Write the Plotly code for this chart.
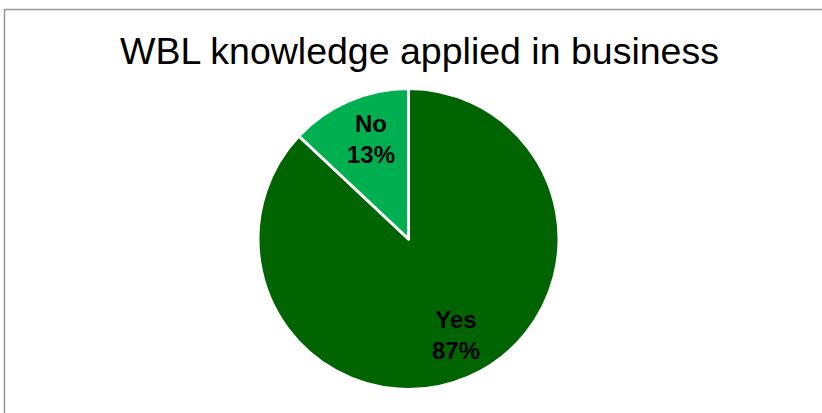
import math
import plotly.graph_objects as go

labels = ["Yes", "No"]
values = [87, 13]
colors = ["#006400", "#00B050"]
title_text = "WBL knowledge applied in business"

W, H = 822, 413

# pie geometry in pixels
CX, CY, R = 408.5, 239.0, 150.5
LABEL_R = 0.71 * R

fig = go.Figure(go.Pie(
    labels=labels,
    values=values,
    sort=False,
    direction="clockwise",
    rotation=0,
    marker=dict(colors=colors, line=dict(color="white", width=3)),
    textinfo="none",
    showlegend=False,
    hoverinfo="label+percent",
    domain=dict(x=[(CX - R) / W, (CX + R) / W], y=[(H - CY - R) / H, (H - CY + R) / H]),
))

# slice labels placed along each slice's mid angle (clockwise from 12 o'clock)
total = sum(values)
annotations = []
cum = 0.0
for lab, val in zip(labels, values):
    mid = (cum + val / 2) / total
    cum += val
    theta = 2 * math.pi * mid
    px = CX + LABEL_R * math.sin(theta)
    py = CY - LABEL_R * math.cos(theta)
    annotations.append(dict(
        x=px / W, y=1 - py / H, xref="paper", yref="paper",
        xshift=5, yshift=2,
        text=f"{lab}<br>{round(100 * val / total)}%",
        showarrow=False, xanchor="center", yanchor="middle",
        font=dict(family="Liberation Sans, Arial, sans-serif", size=24, color="black", weight="bold"),
    ))

fig.update_layout(
    width=W, height=H,
    margin=dict(l=0, r=0, t=0, b=0),
    paper_bgcolor="white",
    plot_bgcolor="white",
    annotations=annotations,
    title=dict(
        text=title_text,
        x=419.5 / W, xanchor="center",
        y=1 - 51 / H, yanchor="middle",
        font=dict(family="Liberation Sans, Arial, sans-serif", size=37.5, color="black"),
    ),
    shapes=[dict(
        type="rect", xref="paper", yref="paper",
        x0=4.5 / W, x1=1.02, y0=-0.02, y1=1 - 9.5 / H,
        line=dict(color="#969696", width=1.5),
        fillcolor="rgba(0,0,0,0)",
    )],
)

fig.write_html("out.html")
